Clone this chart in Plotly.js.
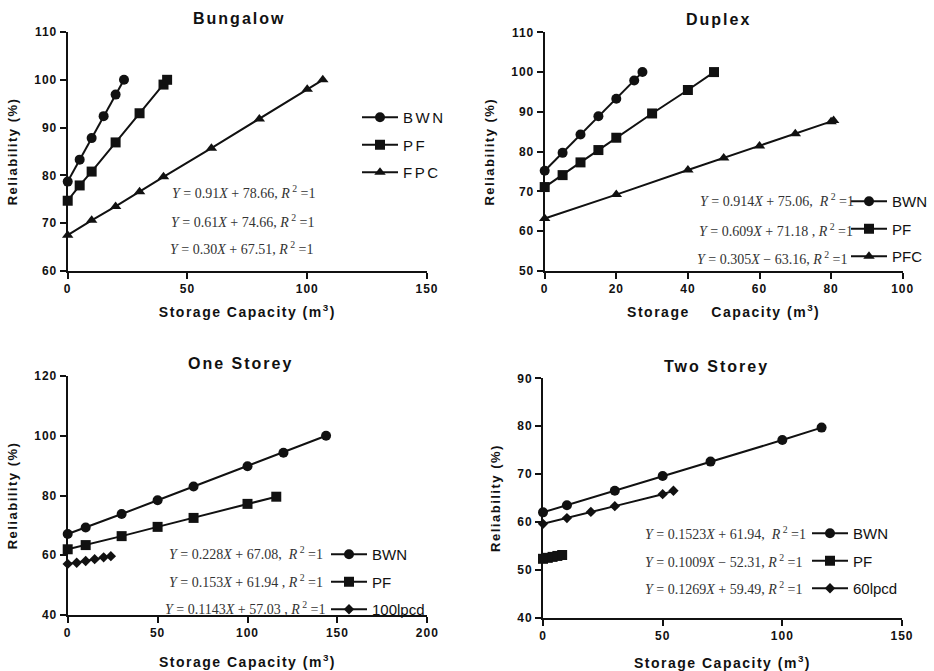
<!DOCTYPE html>
<html><head><meta charset="utf-8">
<script src="https://cdn.plot.ly/plotly-3.0.1.min.js"></script>
<style>
body{margin:0;padding:0;background:#fff;}
.legendtext{letter-spacing:2.5px;}
.xtitle,.x2title,.x3title,.x4title,.ytitle,.y2title,.y3title,.y4title{letter-spacing:1.5px;}
g.xtick text,g.x2tick text,g.x3tick text,g.x4tick text,g.ytick text,g.y2tick text,g.y3tick text,g.y4tick text{letter-spacing:1px;}
.annotation[data-index="0"] text,.annotation[data-index="1"] text,.annotation[data-index="2"] text,.annotation[data-index="3"] text{letter-spacing:2px;}
</style>
</head><body>
<div id="chart" style="width:934px;height:671px;"></div>
<script>
// ---- Data ----
const bunBWN_x = [0, 5, 10, 15, 20, 23.5];
const bunBWN_y = [78.7, 83.3, 87.8, 92.4, 96.9, 100];
const bunPF_x = [0, 5, 10, 20, 30, 40, 41.5];
const bunPF_y = [74.7, 77.9, 80.8, 86.9, 93.0, 99.0, 100];
const bunFPC_x = [0, 10, 20, 30, 40, 60, 80, 100, 106.5];
const bunFPC_y = [67.5, 70.6, 73.5, 76.6, 79.7, 85.7, 91.8, 98.0, 100];

const dupBWN_x = [0, 5, 10, 15, 20, 25, 27.3];
const dupBWN_y = [75.2, 79.7, 84.3, 88.9, 93.3, 97.9, 100];
const dupPF_x = [0, 5, 10, 15, 20, 30, 40, 47.3];
const dupPF_y = [71.1, 74.1, 77.3, 80.4, 83.5, 89.6, 95.5, 100];
const dupPFC_x = [0, 20, 40, 50, 60, 70, 80, 80.7];
const dupPFC_y = [63.2, 69.2, 75.4, 78.4, 81.4, 84.5, 87.5, 87.8];

const oneBWN_x = [0, 10, 30, 50, 70, 100, 120, 143.7];
const oneBWN_y = [67.1, 69.3, 73.8, 78.4, 83.0, 89.8, 94.3, 100];
const onePF_x = [0, 10, 30, 50, 70, 100, 116];
const onePF_y = [62.0, 63.4, 66.4, 69.5, 72.5, 77.2, 79.6];
const one100_x = [0, 5, 10, 15, 20, 24];
const one100_y = [57.1, 57.5, 58.1, 58.7, 59.3, 59.7];

const twoBWN_x = [0, 10, 30, 50, 70, 100, 116.4];
const twoBWN_y = [62.0, 63.5, 66.5, 69.6, 72.6, 77.1, 79.7];
const twoPF_x = [0, 2, 4, 6, 8];
const twoPF_y = [52.3, 52.5, 52.7, 52.9, 53.1];
const two60_x = [0, 10, 20, 30, 50, 54.5];
const two60_y = [59.6, 60.8, 62.1, 63.3, 65.8, 66.5];

const panelTitles = ["Bungalow", "Duplex", "One Storey", "Two Storey"];
const bunNames = ["BWN", "PF", "FPC"];
const dupNames = ["BWN", "PF", "PFC"];
const oneNames = ["BWN", "PF", "100lpcd"];
const twoNames = ["BWN", "PF", "60lpcd"];
const bunEq = [
  "<i>Y</i> = 0.91<i>X</i> + 78.66, <i>R</i><sup> 2</sup> =1",
  "<i>Y</i> = 0.61<i>X</i> + 74.66, <i>R</i><sup> 2</sup> =1",
  "<i>Y</i> = 0.30<i>X</i> + 67.51, <i>R</i><sup> 2</sup> =1"];
const dupEq = [
  "<i>Y</i> = 0.914<i>X</i> + 75.06,  <i>R</i><sup> 2</sup> =1",
  "<i>Y</i> = 0.609<i>X</i> + 71.18 , <i>R</i><sup> 2</sup> =1",
  "<i>Y</i> = 0.305<i>X</i> \u2212 63.16, <i>R</i><sup> 2</sup> =1"];
const oneEq = [
  "<i>Y</i> = 0.228<i>X</i> + 67.08,  <i>R</i><sup> 2</sup> =1",
  "<i>Y</i> = 0.153<i>X</i> + 61.94 , <i>R</i><sup> 2</sup> =1",
  "<i>Y</i> = 0.1143<i>X</i> + 57.03 , <i>R</i><sup> 2</sup> =1"];
const twoEq = [
  "<i>Y</i> = 0.1523<i>X</i> + 61.94,  <i>R</i><sup> 2</sup> =1",
  "<i>Y</i> = 0.1009<i>X</i> \u2212 52.31, <i>R</i><sup> 2</sup> =1",
  "<i>Y</i> = 0.1269<i>X</i> + 59.49, <i>R</i><sup> 2</sup> =1"];

// ---- helpers ----
const W = 934, H = 671;
const px = v => v / W;
const py = v => 1 - v / H;
const sansFont = "Liberation Sans, Arial, sans-serif";

function tr(x, y, name, sym, size, xa, ya, leg, grp) {
  return {
    x: x, y: y, name: name, type: 'scatter', mode: 'lines+markers',
    xaxis: xa, yaxis: ya, legend: leg, legendgroup: grp,
    cliponaxis: false,
    line: {color: '#111', width: 2},
    marker: {symbol: sym, size: size, color: '#111'}
  };
}

const data = [
  tr(bunBWN_x, bunBWN_y, bunNames[0], 'circle', 10, 'x', 'y', 'legend', 'a1'),
  tr(bunPF_x, bunPF_y, bunNames[1], 'square', 10, 'x', 'y', 'legend', 'a2'),
  tr(bunFPC_x, bunFPC_y, bunNames[2], 'triangle-up', 10, 'x', 'y', 'legend', 'a3'),
  tr(dupBWN_x, dupBWN_y, dupNames[0], 'circle', 10, 'x2', 'y2', 'legend2', 'b1'),
  tr(dupPF_x, dupPF_y, dupNames[1], 'square', 10, 'x2', 'y2', 'legend2', 'b2'),
  tr(dupPFC_x, dupPFC_y, dupNames[2], 'triangle-up', 10, 'x2', 'y2', 'legend2', 'b3'),
  tr(oneBWN_x, oneBWN_y, oneNames[0], 'circle', 10, 'x3', 'y3', 'legend3', 'c1'),
  tr(onePF_x, onePF_y, oneNames[1], 'square', 10, 'x3', 'y3', 'legend3', 'c2'),
  tr(one100_x, one100_y, oneNames[2], 'diamond', 8, 'x3', 'y3', 'legend3', 'c3'),
  tr(twoBWN_x, twoBWN_y, twoNames[0], 'circle', 10, 'x4', 'y4', 'legend4', 'd1'),
  tr(twoPF_x, twoPF_y, twoNames[1], 'square', 10, 'x4', 'y4', 'legend4', 'd2'),
  tr(two60_x, two60_y, twoNames[2], 'diamond', 8, 'x4', 'y4', 'legend4', 'd3')
];

function xax(domain, range, dtick, anchor, title, standoff) {
  return {
    domain: domain, range: range, dtick: dtick, tick0: 0, anchor: anchor,
    automargin: false,
    showgrid: false, zeroline: false, showline: true, linecolor: '#111', linewidth: 2,
    ticks: 'outside', ticklen: 6, tickwidth: 2, tickcolor: '#111',
    tickfont: {family: sansFont, size: 12, color: '#111', weight: 'bold'},
    title: {text: title, standoff: standoff, font: {family: sansFont, size: 14, color: '#111', weight: 'bold'}}
  };
}
function yax(domain, range, dtick, anchor) {
  return {
    domain: domain, range: range, dtick: dtick, anchor: anchor,
    automargin: false,
    showgrid: false, zeroline: false, showline: true, linecolor: '#111', linewidth: 2,
    ticks: 'outside', ticklen: 6, tickwidth: 2, tickcolor: '#111',
    tickfont: {family: sansFont, size: 12, color: '#111', weight: 'bold'},
    title: {text: 'Reliability (%)', standoff: 14, font: {family: sansFont, size: 13, color: '#111', weight: 'bold'}}
  };
}
function legend(xpx, ypx) {
  return {
    x: px(xpx), y: py(ypx), xanchor: 'left', yanchor: 'top',
    bgcolor: 'rgba(0,0,0,0)', borderwidth: 0, tracegroupgap: 5,
    itemwidth: 36,
    font: {family: sansFont, size: 15, color: '#111'}
  };
}

const annotations = [];
const titlePos = [[239, 18], [718, 19], [240, 363], [716, 366]];
panelTitles.forEach((t, i) => {
  annotations.push({
    xref: 'paper', yref: 'paper', x: px(titlePos[i][0]), y: py(titlePos[i][1]),
    xanchor: 'center', yanchor: 'middle', showarrow: false, text: t,
    font: {family: sansFont, size: 16, color: '#111', weight: 'bold'}
  });
});
function eqs(list, xs, ys) {
  list.forEach((t, i) => {
    annotations.push({
      xref: 'paper', yref: 'paper', x: px(xs[i]), y: py(ys[i]),
      xanchor: 'left', yanchor: 'middle', showarrow: false, text: t,
      font: {family: 'Liberation Serif, Times New Roman, serif', size: 14, color: '#333'}
    });
  });
}
eqs(bunEq, [170, 169, 168], [192, 221, 248]);
eqs(dupEq, [698, 697, 695], [200, 230, 258]);
eqs(oneEq, [167, 167, 163], [553, 581, 608]);
eqs(twoEq, [643, 643, 643], [533, 561, 588]);

const layout = {
  width: W, height: H,
  margin: {l: 0, r: 0, t: 0, b: 0, autoexpand: false},
  paper_bgcolor: '#fff', plot_bgcolor: '#fff',
  showlegend: true,
  xaxis: xax([px(67.7), px(427)], [0, 150], 50, 'y', 'Storage Capacity (m<sup>3</sup>)', 12),
  yaxis: yax([py(271), py(32)], [60, 110], 10, 'x'),
  xaxis2: xax([px(544.7), px(902.7)], [0, 100], 20, 'y2', 'Storage\u00a0\u00a0\u00a0\u00a0Capacity (m<sup>3</sup>)', 12),
  yaxis2: yax([py(271), py(32.3)], [50, 110], 10, 'x2'),
  xaxis3: xax([px(67.7), px(427.3)], [0, 200], 50, 'y3', 'Storage Capacity (m<sup>3</sup>)', 18),
  yaxis3: yax([py(615), py(376)], [40, 120], 20, 'x3'),
  xaxis4: xax([px(543), px(902)], [0, 150], 50, 'y4', 'Storage Capacity (m<sup>3</sup>)', 18),
  yaxis4: yax([py(617.7), py(378.3)], [40, 90], 10, 'x4'),
  legend: legend(357, 101),
  legend2: legend(846, 185),
  legend3: legend(326, 538),
  legend4: legend(807, 517),
  annotations: annotations
};

Plotly.newPlot('chart', data, layout, {staticPlot: true, displayModeBar: false});
</script>
</body></html>
